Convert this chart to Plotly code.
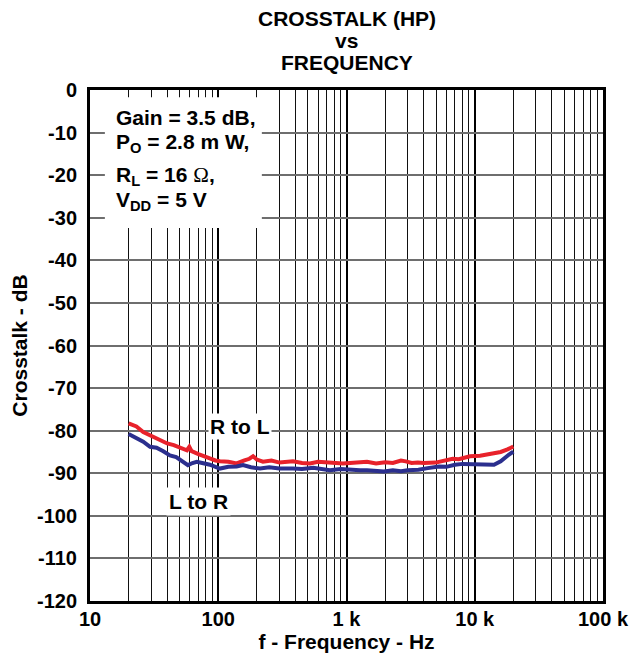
import plotly.graph_objects as go

# ---- data ----
red_freq = [20, 23, 26, 30, 35, 40, 45, 50, 57, 59.5, 62, 70, 80, 86, 95, 103, 120, 139, 160, 175,
            187, 200, 223, 260, 300, 383, 450, 519, 600, 743, 939, 1065, 1200, 1445, 1700, 2000,
            2300, 2660, 2900, 3220, 3600, 4000, 4950, 5500, 6730, 7500, 8500, 9180, 11000, 12470,
            14000, 15930, 18000, 20000]
red_db = [-78.3, -79.0, -80.3, -81.2, -82.2, -83.0, -83.4, -84.0, -84.6, -83.8, -84.8, -85.5, -86.0,
          -86.5, -87.0, -87.2, -87.3, -87.7, -87.0, -86.6, -86.0, -86.8, -87.3, -87.0, -87.5, -87.2,
          -87.6, -87.7, -87.3, -87.6, -87.7, -87.6, -87.4, -87.3, -87.7, -87.4, -87.6, -87.0, -87.2,
          -87.6, -87.5, -87.6, -87.5, -87.2, -86.6, -86.7, -86.3, -86.0, -85.9, -85.6, -85.4, -85.0,
          -84.4, -83.7]

blue_freq = [20, 23, 26, 29.4, 33, 37, 42, 47, 52, 58, 63, 68, 75, 86, 103, 120, 139, 156, 180, 212,
             250, 300, 383, 450, 550, 743, 900, 1065, 1274, 1445, 1700, 1960, 2300, 2660, 3000, 3640,
             4300, 5260, 6000, 7000, 8090, 9180, 11000, 13000, 14130, 15930, 16900, 18500, 20000]
blue_db = [-80.8, -81.8, -82.6, -83.8, -84.0, -84.8, -85.8, -86.2, -87.0, -88.1, -87.6, -87.3, -87.6,
           -88.0, -88.9, -88.5, -88.4, -88.1, -88.6, -88.9, -88.6, -88.9, -88.9, -89.0, -88.7, -89.3,
           -89.0, -89.2, -89.3, -89.3, -89.5, -89.6, -89.3, -89.5, -89.3, -89.2, -88.8, -88.4, -88.5,
           -88.0, -87.8, -87.8, -87.8, -88.0, -88.0, -87.2, -86.5, -85.6, -84.9]

x_tickvals = [10, 100, 1000, 10000, 100000]
x_ticktext = ["10", "100", "1 k", "10 k", "100 k"]
x_minor = [m * 10 ** k for k in range(1, 5) for m in range(2, 10)]
y_tickvals = list(range(-120, 1, 10))
y_ticktext = [str(v) for v in y_tickvals]  # plain hyphen minus, as in the reference

FONT = "Liberation Sans, Arial, sans-serif"
RED = "#e8222b"
BLUE = "#2b2f8e"
TICK = 20
TXT = 21

fig = go.Figure()
fig.add_trace(go.Scatter(x=red_freq, y=red_db, mode="lines", line=dict(color=RED, width=4),
                         showlegend=False, name="R to L"))
fig.add_trace(go.Scatter(x=blue_freq, y=blue_db, mode="lines", line=dict(color=BLUE, width=4),
                         showlegend=False, name="L to R"))

# page body has an 8px margin, so the figure is 8px smaller and margins shifted
fig.update_layout(
    width=633, height=650,
    margin=dict(l=82, r=38, t=82, b=57, autoexpand=False),
    paper_bgcolor="white", plot_bgcolor="white",
    font=dict(family=FONT, color="black", size=TICK, weight="bold"),
)

fig.update_xaxes(
    type="log", range=[1, 5], automargin=False,
    tickvals=x_tickvals, ticktext=x_ticktext,
    tickfont=dict(family=FONT, size=TICK, weight="bold"),
    showgrid=True, gridcolor="black", gridwidth=2,
    minor=dict(tickvals=x_minor, showgrid=True, gridcolor="#111111", gridwidth=1, ticks=""),
    showline=True, linecolor="black", linewidth=3, mirror=True,
    ticks="", ticklabelstandoff=-2,
    title=dict(text="f - Frequency - Hz", font=dict(family=FONT, size=TXT, weight="bold"), standoff=0),
    zeroline=False,
)
fig.update_yaxes(
    range=[-120, 0], automargin=False,
    tickvals=y_tickvals, ticktext=y_ticktext,
    tickfont=dict(family=FONT, size=TICK, weight="bold"),
    showgrid=True, gridcolor="#6e6e6e", gridwidth=2,
    showline=True, linecolor="black", linewidth=3, mirror=True,
    ticks="", ticklabelstandoff=6,
    title=dict(text="Crosstalk - dB", font=dict(family=FONT, size=TXT, weight="bold"), standoff=4),
    zeroline=False,
)

# title as three annotation lines above the plot
title_lines = [("CROSSTALK (HP)", 72), ("vs", 50), ("FREQUENCY", 28)]
for txt, dy in title_lines:
    fig.add_annotation(text=txt, xref="x domain", yref="y domain", x=0.5, y=1,
                       yshift=dy, xanchor="center", yanchor="middle", showarrow=False,
                       font=dict(family=FONT, size=TXT, weight="bold", color="black"))

# white box behind the conditions text
fig.add_shape(type="rect", xref="x domain", yref="y domain",
              x0=0.029, x1=0.335, y0=0.730, y1=0.986,
              fillcolor="white", line=dict(width=0), layer="above")

OMEGA = '<span style="font-family:Liberation Serif;font-weight:normal">Ω</span>'
cond_lines = [
    ("Gain = 3.5 dB,", 0.946),
    ("P<sub>O</sub> = 2.8 m W,", 0.897),
    ("R<sub>L</sub> = 16 " + OMEGA + ",", 0.831),
    ("V<sub>DD</sub> = 5 V", 0.782),
]
for txt, yy in cond_lines:
    fig.add_annotation(text=txt, xref="x domain", yref="y domain", x=0.047, y=yy,
                       xanchor="left", yanchor="middle", showarrow=False,
                       font=dict(family=FONT, size=TXT, weight="bold", color="black"))

fig.add_annotation(text="R to L", xref="x domain", yref="y domain", x=0.292, y=0.342,
                   xanchor="center", yanchor="middle", showarrow=False, bgcolor="white",
                   borderpad=1, font=dict(family=FONT, size=TXT, weight="bold", color="black"))
fig.add_annotation(text="L to R", xref="x domain", yref="y domain", x=0.211, y=0.194,
                   xanchor="center", yanchor="middle", showarrow=False, bgcolor="white",
                   borderpad=2, font=dict(family=FONT, size=TXT, weight="bold", color="black"))

fig.write_html("out.html")
